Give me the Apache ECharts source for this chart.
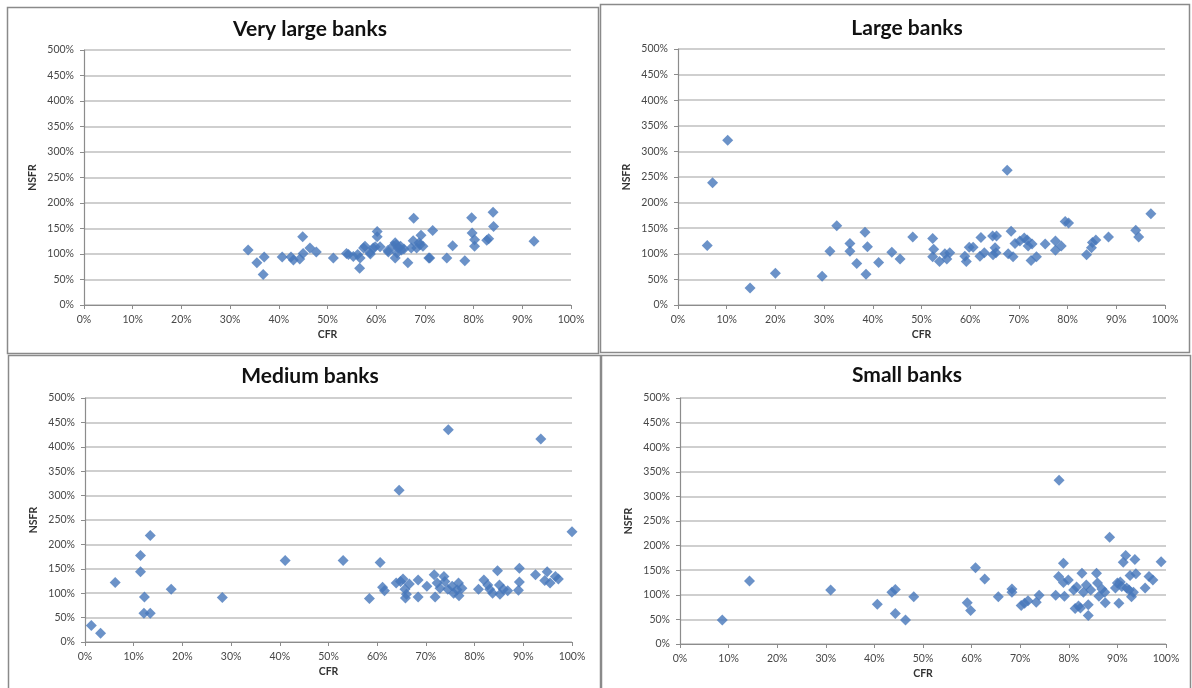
<!DOCTYPE html>
<html>
<head>
<meta charset="utf-8">
<title>NSFR vs CFR by bank size</title>
<script src="https://cdn.jsdelivr.net/npm/echarts@6/dist/echarts.min.js"></script>
<style>
  html, body { margin: 0; padding: 0; background: #ffffff; }
  #main { width: 1192px; height: 688px; }
</style>
</head>
<body>
<div id="main"></div>
<script>
// Panel titles and axis names
const panelTitles = ['Very large banks', 'Large banks', 'Medium banks', 'Small banks'];
const xAxisName = 'CFR';
const yAxisName = 'NSFR';

// Axis ranges (percent)
const xTicks = { min: 0, max: 100, interval: 10 };
const yTicks = { min: 0, max: 500, interval: 50 };

// [CFR %, NSFR %] per bank
const veryLargeBanks = [
  [33.7,108],[35.5,83],[37.0,94],[36.8,60],[40.7,94],[42.5,94],[43.0,88],[44.3,90],
  [44.9,134],[45.0,101],[46.4,112],[47.7,104],[51.2,92],[53.9,101],[54.3,99],[55.3,95],
  [56.2,99],[56.7,92],[56.6,72],[57.4,112],[57.7,115],[58.7,103],[58.8,100],[59.4,112],
  [59.8,114],[60.2,144],[60.2,134],[60.8,114],[62.4,107],[62.5,104],[63.5,116],[63.9,122],
  [63.9,92],[64.1,118],[64.3,102],[64.5,112],[65.0,115],[65.2,108],[65.7,110],[66.5,83],
  [67.2,112],[67.7,170],[67.6,126],[68.3,112],[68.8,122],[69.0,118],[69.2,137],[69.6,115],
  [70.8,92],[71.0,92],[71.6,146],[74.5,92],[75.7,116],[78.2,87],[79.6,171],[79.7,141],
  [80.2,128],[80.2,115],[82.7,127],[83.1,130],[84.0,182],[84.1,154],[92.4,125]
];

const largeBanks = [
  [6.0,116],[7.1,239],[10.2,322],[14.8,33],[20.0,62],[29.6,56],[31.2,105],[32.6,155],
  [35.3,120],[35.3,105],[36.7,81],[38.4,142],[38.6,60],[38.9,114],[41.2,83],[43.9,103],
  [45.6,90],[48.2,133],[52.3,130],[52.5,109],[52.3,94],[53.7,85],[54.8,100],[55.2,90],
  [55.8,102],[58.9,95],[59.2,85],[59.8,113],[60.6,113],[62.0,95],[62.2,132],[62.9,102],
  [64.6,135],[64.7,98],[65.1,112],[65.4,135],[65.3,102],[67.6,263],[67.8,100],[68.4,144],
  [68.8,94],[69.2,120],[70.2,125],[71.1,131],[71.7,127],[71.9,115],[72.5,87],[72.7,119],
  [73.6,94],[75.4,119],[77.5,125],[77.5,107],[78.7,115],[79.5,163],[80.2,160],[83.9,98],
  [84.9,112],[85.1,122],[85.8,127],[88.4,133],[94.0,146],[94.6,133],[97.1,178]
];

const mediumBanks = [
  [1.3,34],[3.2,18],[6.2,122],[11.4,177],[11.4,144],[13.4,218],[12.2,92],[12.1,59],
  [13.4,59],[17.7,108],[28.2,91],[41.1,167],[53.0,167],[58.4,89],[60.6,163],[61.1,112],
  [61.5,105],[63.9,121],[64.5,311],[64.8,124],[65.3,129],[65.7,108],[65.8,90],[66.0,98],
  [66.6,119],[68.4,127],[68.4,92],[70.2,114],[71.7,138],[71.9,92],[72.3,121],[72.9,110],
  [73.7,134],[73.9,124],[74.6,435],[74.5,108],[75.4,114],[75.7,100],[76.4,107],[76.7,121],
  [76.8,95],[77.4,110],[80.8,108],[81.9,127],[82.7,117],[83.1,108],[83.7,100],[84.7,146],
  [85.1,117],[85.2,98],[85.9,108],[86.8,105],[89.2,151],[89.2,123],[89.0,106],[92.5,138],
  [93.6,416],[94.4,126],[94.9,144],[95.5,121],[96.6,134],[97.2,129],[100.0,226]
];

const smallBanks = [
  [8.7,49],[14.3,128],[31.0,110],[40.6,81],[43.6,105],[44.3,111],[44.3,62],[46.4,49],
  [48.1,96],[59.1,84],[59.8,68],[60.8,155],[62.7,132],[65.5,96],[68.3,112],[68.3,105],
  [70.2,78],[70.9,83],[71.6,88],[73.3,85],[73.9,99],[77.3,99],[77.9,137],[78.0,333],
  [78.9,164],[78.9,125],[79.1,97],[79.9,130],[81.0,110],[81.3,72],[81.6,116],[82.0,77],
  [82.4,73],[82.7,144],[83.0,105],[83.6,120],[84.0,80],[84.0,58],[84.5,110],[85.7,144],
  [85.9,124],[86.2,97],[86.8,112],[87.4,105],[87.5,84],[88.4,217],[89.6,114],[90.0,124],
  [90.3,83],[90.6,126],[90.9,117],[91.2,166],[91.7,180],[91.9,114],[92.4,110],[92.6,139],
  [92.9,96],[93.3,105],[93.6,172],[93.8,143],[95.7,114],[96.5,137],[97.3,130],[99.0,167]
];

const panelData = [veryLargeBanks, largeBanks, mediumBanks, smallBanks];

// Layout of each panel: plot area, title centre, frame box
const layout = [
  { grid: { left: 84,  top: 50,  width: 487, height: 255 }, titleX: 305, titleY: 14, box: [7, 7, 591, 346] },
  { grid: { left: 678, top: 49,  width: 487, height: 256 }, titleX: 902, titleY: 13, box: [600, 4, 589, 348] },
  { grid: { left: 85,  top: 398, width: 487, height: 244 }, titleX: 305, titleY: 361, box: [8, 355, 592, 340] },
  { grid: { left: 680, top: 398, width: 486, height: 246 }, titleX: 902, titleY: 360, box: [601, 355, 589, 340] }
];

const FONT = 'Lato, "Open Sans", sans-serif';
const labelColor = '#474747';
const axisColor = '#8c8c8c';
const markerColor = '#4677ba';

const pct = v => Math.round(v) + '%';

const option = {
  backgroundColor: '#ffffff',
  animation: false,
  title: layout.map((l, i) => ({
    text: panelTitles[i],
    left: l.titleX,
    top: l.titleY,
    textAlign: 'center',
    textStyle: { fontFamily: FONT, fontSize: 21, fontWeight: 'bold', color: '#111111' }
  })),
  graphic: layout.map(l => ({
    type: 'rect',
    shape: { x: l.box[0] + 0.5, y: l.box[1] + 0.5, width: l.box[2], height: l.box[3] },
    style: { fill: 'none', stroke: '#8a8a8a', lineWidth: 1.5 },
    silent: true,
    z: 0
  })),
  grid: layout.map(l => Object.assign({ containLabel: false }, l.grid)),
  xAxis: layout.map((l, i) => ({
    type: 'value',
    gridIndex: i,
    min: xTicks.min, max: xTicks.max, interval: xTicks.interval,
    name: xAxisName,
    nameLocation: 'middle',
    nameGap: 24,
    nameTextStyle: { fontFamily: FONT, fontSize: 10.5, fontWeight: 'bold', color: '#333333' },
    axisLine: { show: true, onZero: false, lineStyle: { color: axisColor, width: 1.2 } },
    axisTick: { show: true, inside: false, length: 4, lineStyle: { color: axisColor } },
    axisLabel: { formatter: pct, fontFamily: FONT, fontSize: 10.5, color: labelColor, margin: 9 },
    splitLine: { show: false }
  })),
  yAxis: layout.map((l, i) => ({
    type: 'value',
    gridIndex: i,
    min: yTicks.min, max: yTicks.max, interval: yTicks.interval,
    name: yAxisName,
    nameLocation: 'middle',
    nameGap: 46,
    nameRotate: 90,
    nameTextStyle: { fontFamily: FONT, fontSize: 10.5, fontWeight: 'bold', color: '#333333' },
    axisLine: { show: true, lineStyle: { color: axisColor, width: 1.2 } },
    axisTick: { show: true, inside: false, length: 4, lineStyle: { color: axisColor } },
    axisLabel: { formatter: pct, fontFamily: FONT, fontSize: 10.5, color: labelColor, margin: 10 },
    splitLine: { show: true, lineStyle: { color: '#cfcfcf', width: 2 } }
  })),
  series: panelData.map((data, i) => ({
    type: 'scatter',
    name: panelTitles[i],
    xAxisIndex: i,
    yAxisIndex: i,
    symbol: 'diamond',
    symbolSize: [11, 11],
    itemStyle: { color: markerColor },
    data: data
  }))
};

const chart = echarts.init(document.getElementById('main'));
chart.setOption(option);
</script>
</body>
</html>
